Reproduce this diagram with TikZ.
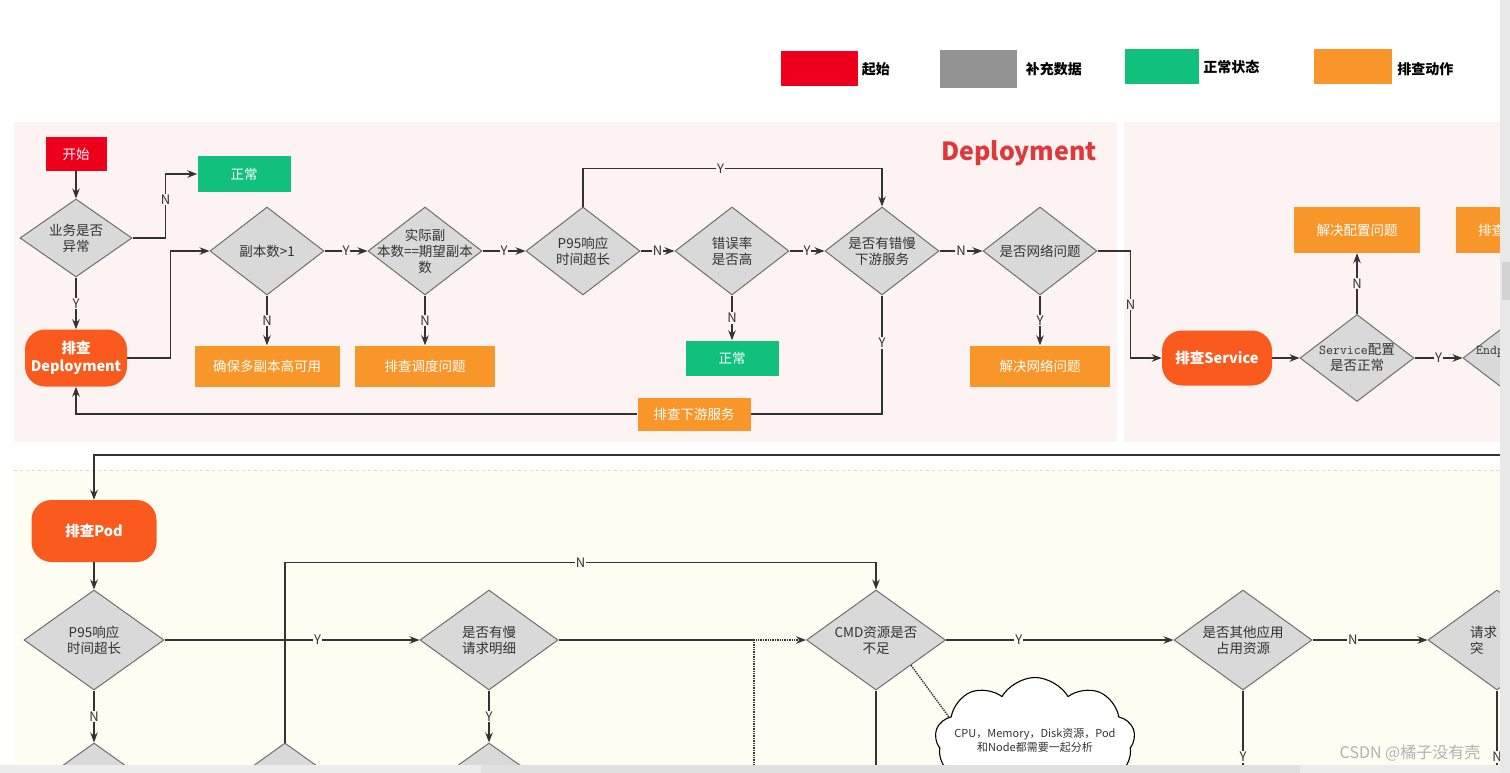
\documentclass[tikz,border=0pt]{standalone}
\usepackage{fontspec}
\setmainfont{Noto Sans CJK SC}
\usetikzlibrary{positioning,shapes.geometric,shapes.symbols,arrows.meta}

\definecolor{startred}{HTML}{EE001C}
\definecolor{datagray}{HTML}{939393}
\definecolor{okgreen}{HTML}{12C07E}
\definecolor{fixorange}{HTML}{F8962A}
\definecolor{termorange}{HTML}{FA5A1E}
\definecolor{qgray}{HTML}{D9D9D9}
\definecolor{diaborder}{HTML}{6E6E6E}
\definecolor{pinkbg}{HTML}{FDF3F3}
\definecolor{yellowbg}{HTML}{FDFDF1}
\definecolor{titlered}{HTML}{E0383A}
\definecolor{edge}{HTML}{333333}

\newcommand{\qfont}{\fontsize{13.5}{16}\selectfont}
\newcommand{\lfont}{\fontsize{13}{13}\selectfont}
\newcommand{\tfont}{\fontsize{14.5}{18}\selectfont\bfseries}
\newcommand{\kfont}{\fontsize{14}{16}\selectfont\bfseries}

\begin{document}
\begin{tikzpicture}[
		x=1pt, y=-1pt,
		>={Stealth[length=10pt,width=7.5pt]},
		node distance=115pt,
		line/.style = {draw=edge, line width=1.4pt},
		dia/.style = {diamond, draw=diaborder, fill=qgray, line width=1pt, inner sep=0pt, minimum width=114, minimum height=88},
		q/.style = {dia, label={[qtxt]center:{#1}}},
		qtxt/.style = {align=center, font=\qfont, text=black!80, inner sep=0pt},
		fix/.style = {fill=fixorange, text=white, font=\qfont, minimum width=140, minimum height=41, inner sep=0pt},
		ok/.style = {fill=okgreen, text=white, font=\qfont, minimum width=93, minimum height=35, inner sep=0pt},
		term/.style = {fill=termorange, text=white, font=\tfont, rounded corners=20pt, align=center, inner sep=0pt},
		lbl/.style = {fill=pinkbg, text=edge, font=\lfont, inner sep=1pt},
		lbly/.style = {lbl, fill=yellowbg},
		key/.style = {minimum width=77, minimum height=35, inner sep=0pt},
		keytxt/.style = {anchor=west, font=\kfont, inner sep=0pt}
	]
	\useasboundingbox (0,0) rectangle (1510,773);
	\clip (0,0) rectangle (1510,773);
	\fill[white] (0,0) rectangle (1510,773);
	% Legend.
	\node[key, fill=startred] (kstart) at (819,69) {};
	\node[keytxt, right=4pt of kstart] (kstartt) {起始};
	\node[key, fill=datagray, minimum height=38] (kdata) at (978,69) {};
	\node[keytxt, right=9pt of kdata] (kdatat) {补充数据};
	\node[key, fill=okgreen, minimum width=74] (kok) at (1162,67) {};
	\node[keytxt, right=4pt of kok] (kokt) {正常状态};
	\node[key, fill=fixorange, minimum width=78] (kfix) at (1353,67) {};
	\node[keytxt, right=5pt of kfix, yshift=-2pt] (kfixt) {排查动作};
	% Panels.
	\fill[pinkbg] (14,122) rectangle (1117,442);
	\fill[pinkbg] (1124,122) rectangle (1500,442);
	\fill[yellowbg] (14,470) rectangle (1500,773);
	\draw[dashed, gray!30] (14,470) -- (1500,470);
	\node[text=titlered, font=\fontsize{25}{30}\selectfont\bfseries] (title) at (1019,153) {Deployment};
	% Deployment row.
	\node[fill=startred, text=white, font=\qfont, minimum width=61, minimum height=33, inner sep=0pt] (start) at (76,154) {开始};
	\node[q={业务是否\\异常}, minimum width=112, minimum height=78] (biz) at (76,238) {};
	\node[ok] (ok1) at (244,174) {正常};
	\node[term, minimum width=102, minimum height=57] (dep) at (76,358) {排查\\Deployment};
	\node[q={副本数>1}] (rep) at (267,251) {};
	\node[q={实际副\\本数==期望副本\\数}] (real) at (425,251) {};
	\node[q={P95响应\\时间超长}] (p95) at (583,251) {};
	\node[q={错误率\\是否高}] (err) at (732,251) {};
	\node[q={是否有错慢\\下游服务}] (slow) at (882,251) {};
	\node[q={是否网络问题}] (net) at (1040,251) {};
	% Results below.
	\node[fix, below of=rep, minimum width=145] (multi) {确保多副本高可用};
	\node[fix, below of=real] (sched) {排查调度问题};
	\node[ok, below of=err, node distance=107pt] (ok2) {正常};
	\node[fix, below of=net] (fixnet) {解决网络问题};
	\node[fix, minimum width=113, minimum height=33] (down) at (694,414) {排查下游服务};
	% Service.
	\node[term, minimum width=110, minimum height=55] (svc) at (1217,358) {排查Service};
	\node[q={{\ttfamily Service}配置\\是否正常}, minimum height=87] (svccfg) at (1357,358) {};
	\node[fix, minimum width=126, minimum height=46] (fixcfg) at (1357,230) {解决配置问题};
	\node[fix, minimum width=124, minimum height=46, text width=80, inner xsep=22pt, align=left] (chk) at (1518,230) {排查};
	\node[dia, minimum height=87] (endp) at (1520,358) {};
	\node[qtxt, anchor=west] (endpt) at (1476,352) {\ttfamily Endp};

	\draw[->, line] (start) to (biz);
	\draw[->, line] (biz.east) -- ++(33,0) |- node[lbl, pos=0.3] {N} (ok1.west);
	\draw[->, line] (biz) to node[lbl] {Y} (dep);
	\draw[->, line] (dep.east) -- ++(43,0) |- (rep.west);
	\draw[->, line] (rep) to node[lbl] {Y} (real);
	\draw[->, line] (rep) to node[lbl] {N} (multi);
	\draw[->, line] (real) to node[lbl] {N} (sched);
	\draw[->, line] (real) to node[lbl] {Y} (p95);
	\draw[->, line] (p95) to node[lbl] {N} (err);
	\draw[->, line] (p95.north) -- ++(0,-38) -| node[lbl, pos=0.23] {Y} (slow.north);
	\draw[->, line] (err) to node[lbl] {Y} (slow);
	\draw[->, line] (err) to node[lbl] {N} (ok2);
	\draw[->, line] (slow) to node[lbl] {N} (net);
	\draw[line] (slow.south) |- node[lbl, pos=0.2] {Y} (down.east);
	\draw[->, line] (down.west) -| (dep.south);
	\draw[->, line] (net) to node[lbl] {Y} (fixnet);
	\draw[->, line] (net.east) -- ++(33,0) |- node[lbl, pos=0.25] {N} (svc.west);
	\draw[->, line] (svc) to (svccfg);
	\draw[->, line] (svccfg) to node[lbl] {N} (fixcfg);
	\draw[->, line] (svccfg) to node[lbl] {Y} (endp);

	% Pod row.
	\coordinate (podin) at (1510,455);
	\node[term, minimum width=125, minimum height=62] (pod) at (94,531) {排查Pod};
	\node[q={P95响应\\时间超长}, minimum width=140, minimum height=100] (p95b) at (94,640) {};
	\node[q={是否有慢\\请求明细}, minimum width=138, minimum height=100] (slowreq) at (489,640) {};
	\node[q={CMD资源是否\\不足}, minimum width=139, minimum height=100] (cmd) at (876,640) {};
	\node[q={是否其他应用\\占用资源}, minimum width=138, minimum height=100] (other) at (1243,640) {};
	\node[dia, minimum width=138, minimum height=100] (burst) at (1497,640) {};
	\node[qtxt, anchor=west, align=left] (burstt) at (1470,640) {请求\\突};
	% Level below, cut by the page.
	\node[dia, minimum width=140, minimum height=100] (b1) at (94,793) {};
	\node[dia, minimum width=140, minimum height=100] (b2) at (285,793) {};
	\node[dia, minimum width=140, minimum height=100] (b3) at (489,793) {};
	\node[cloud, cloud puffs=9, cloud puff arc=120, aspect=1.7, draw=black, line width=1.1pt, fill=white, minimum width=200, minimum height=125,
		label={[align=center, font=\fontsize{11}{14}\selectfont, text=black!80]center:{CPU，Memory，Disk资源，Pod\\和Node都需要一起分析}}] (note) at (1035,740) {};
	\coordinate (join) at (754,640);
	\coordinate (dotin) at (754,780);
	\coordinate (cmdout) at (876,780);
	\coordinate (otherout) at (1243,776);
	\coordinate (burstout) at (1497,776);

	\draw[->, line] (podin) -| (pod.north);
	\draw[->, line] (pod) to (p95b);
	\draw[->, line] (p95b) to node[lbly, pos=0.6] {Y} (slowreq);
	\draw[->, line] (p95b) to node[lbly] {N} (b1);
	\draw[->, line] (b2.north) -- ++(0,-180) -| node[lbly, pos=0.25] {N} (cmd.north);
	\draw[->, line] (slowreq) to node[lbly] {Y} (b3);
	\draw[line] (slowreq) to (join);
	\draw[->, line, densely dotted] (dotin) |- (cmd.west);
	\draw[line] (cmd) to (cmdout);
	\draw[->, line] (cmd) to node[lbly, pos=0.32] {Y} (other);
	\draw[->, line] (other) to node[lbly, pos=0.35] {N} (burst);
	\draw[->, line] (other) to node[lbly, pos=0.78] {Y} (otherout);
	\draw[->, line] (burst) to node[lbly, pos=0.78] {N} (burstout);
	\draw[line, densely dotted] (cmd.south east) to (note.165);

	% Scroll bars and mark.
	\fill[gray!15] (0,765) rectangle (1500,773);
	\fill[gray!24] (481,765) rectangle (1300,773);
	\fill[gray!18] (1500,0) rectangle (1510,773);
	\fill[gray!35] (1502,262) rectangle (1510,300);
	\node[text=gray!60, font=\fontsize{16}{18}\selectfont] (mark) at (1410,753) {CSDN @橘子没有壳};
\end{tikzpicture}
\end{document}
